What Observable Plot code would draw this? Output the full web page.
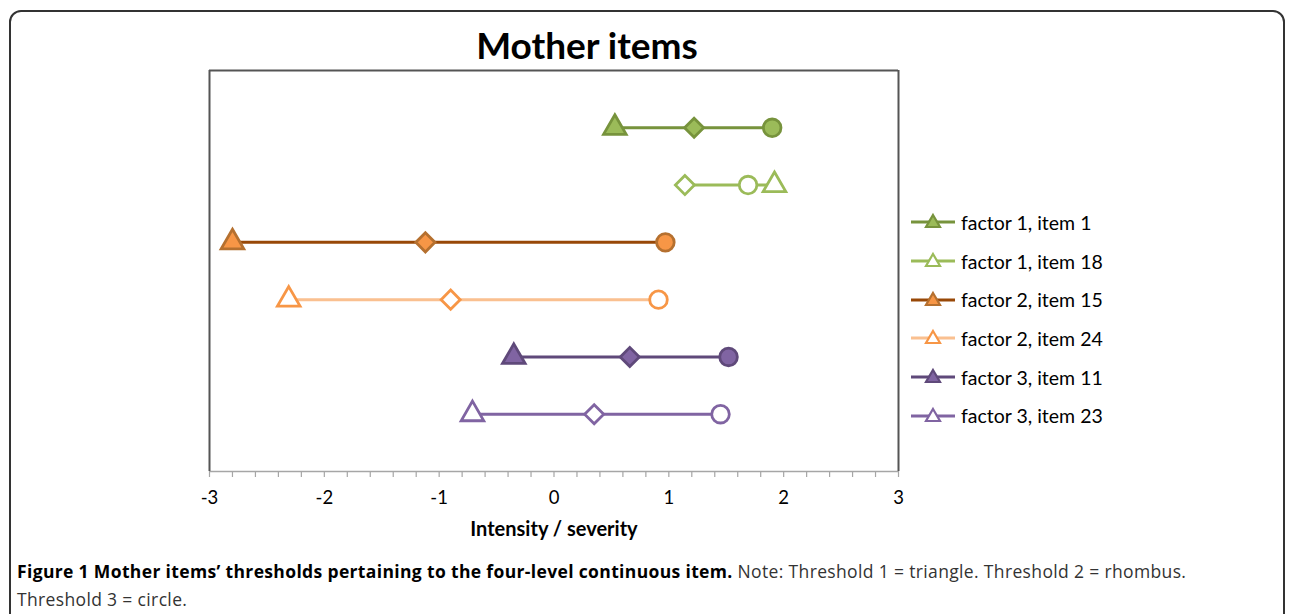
<!DOCTYPE html>
<html>
<head>
<meta charset="utf-8">
<script src="https://cdn.jsdelivr.net/npm/d3@7"></script>
<script src="https://cdn.jsdelivr.net/npm/@observablehq/plot@0.6"></script>
<style>
  html, body { margin: 0; padding: 0; background: #fff; }
  #page { position: relative; width: 1292px; height: 614px; overflow: hidden; background: #fff; }
  #border { position: absolute; left: 9px; top: 10px; width: 1276px; height: 640px; border: 2px solid #333; border-radius: 12px; box-sizing: border-box; }
  #chart { position: absolute; left: 0; top: 0; }
  #title { position: absolute; left: 0; width: 1174px; top: 22px; text-align: center; font-family: Lato, sans-serif; font-weight: bold; font-size: 37px; color: #000; }
  #legend { position: absolute; left: 911px; top: 203px; font-family: Lato, sans-serif; font-size: 19.5px; color: #000; }
  .lg { display: flex; align-items: center; height: 38.7px; }
  .lg svg { margin-right: 6px; }
  #caption { position: absolute; left: 17px; top: 557px; font-family: "Open Sans", sans-serif; font-size: 17.5px; line-height: 28px; color: #333; letter-spacing: 0.35px; white-space: nowrap; }
  #caption b { color: #000; }
</style>
</head>
<body>
<div id="page">
  <div id="border"></div>
  <div id="chart"></div>
  <div id="title">Mother items</div>
  <div id="legend"></div>
  <div id="caption"><b>Figure 1 Mother items’ thresholds pertaining to the four-level continuous item.</b> Note: Threshold 1 = triangle. Threshold 2 = rhombus.<br>Threshold 3 = circle.</div>
</div>
<script>
// ---- data ----
const items = ["factor 1, item 1", "factor 1, item 18", "factor 2, item 15", "factor 2, item 24", "factor 3, item 11", "factor 3, item 23"];
const rowPos = [6, 5, 4, 3, 2, 1];
const threshold1 = [0.53, 1.92, -2.80, -2.31, -0.35, -0.71]; // triangle
const threshold2 = [1.22, 1.14, -1.12, -0.90, 0.66, 0.35];   // rhombus
const threshold3 = [1.90, 1.69, 0.97, 0.91, 1.52, 1.45];     // circle
const xTicks = [-3, -2, -1, 0, 1, 2, 3];
const xLabel = "Intensity / severity";

// ---- styles ----
const lineColors = ["#77933C", "#9BBB59", "#984807", "#FAC090", "#5F497A", "#8064A2"];
const markerStroke = ["#77933C", "#9BBB59", "#B5702F", "#F79646", "#5F497A", "#8064A2"];
const markerFill = ["#9BBB59", "#FFFFFF", "#F79646", "#FFFFFF", "#8064A2", "#FFFFFF"];

const points = items.flatMap((item, i) => [
  {item, i, x: threshold1[i], y: rowPos[i], symbol: "triangle", r: 8.4},
  {item, i, x: threshold2[i], y: rowPos[i], symbol: "diamond2", r: 8.6},
  {item, i, x: threshold3[i], y: rowPos[i], symbol: "circle", r: 8.8}
]);

const minor = d3.range(-30, 31, 2).map(v => v / 10);

const plot = Plot.plot({
  width: 1292,
  height: 560,
  marginLeft: 209,
  marginRight: 394,
  marginTop: 70,
  marginBottom: 89,
  x: {domain: [-3, 3]},
  y: {domain: [0, 7], axis: null},
  color: {type: "identity"},
  symbol: {type: "identity"},
  r: {type: "identity"},
  style: {fontFamily: "Lato, sans-serif", fontSize: "18px", color: "#000", background: "transparent"},
  marks: [
    Plot.ruleY([0], {stroke: "#A6A6A6", strokeWidth: 1.5}),
    Plot.ruleY([7], {stroke: "#555", strokeWidth: 2}),
    Plot.ruleX([-3, 3], {stroke: "#555", strokeWidth: 2}),
    Plot.axisX({ticks: minor, tickSize: 6, tickFormat: () => "", stroke: "#A6A6A6", strokeWidth: 1.2, label: null}),
    Plot.axisX({ticks: xTicks, tickSize: 0, tickPadding: 19, tickFormat: d => String(d), label: null, fontSize: 18.5, fill: "#000"}),
    Plot.text([xLabel], {frameAnchor: "bottom", dy: 64, text: d => d, fontWeight: "bold", fontSize: 20, fill: "#000"}),
    Plot.line(points, {x: "x", y: "y", z: "item", stroke: d => lineColors[d.i], strokeWidth: 3}),
    Plot.dot(points, {x: "x", y: "y", symbol: "symbol", r: "r", fill: d => markerFill[d.i], stroke: d => markerStroke[d.i], strokeWidth: 2.8})
  ]
});
document.getElementById("chart").appendChild(plot);

// ---- legend ----
const legend = document.getElementById("legend");
items.forEach((item, i) => {
  const row = document.createElement("div");
  row.className = "lg";
  row.innerHTML = `<svg width="44" height="20" viewBox="0 0 44 20">
    <line x1="0" y1="10" x2="44" y2="10" stroke="${lineColors[i]}" stroke-width="3"/>
    <polygon points="22,3 29,15 15,15" fill="${markerFill[i]}" stroke="${markerStroke[i]}" stroke-width="2.2" stroke-linejoin="miter"/>
  </svg><span>${item}</span>`;
  legend.appendChild(row);
});
</script>
</body>
</html>
